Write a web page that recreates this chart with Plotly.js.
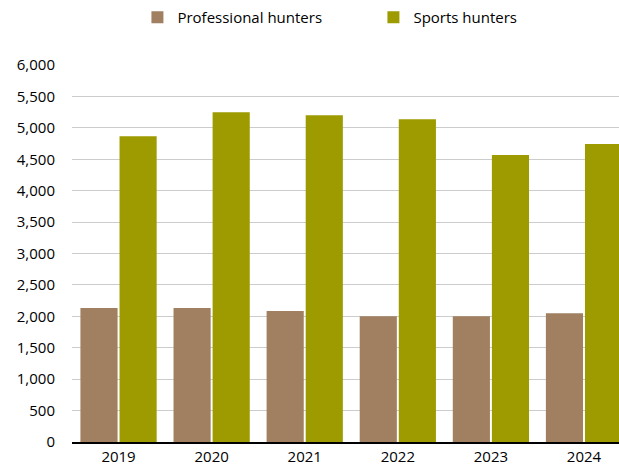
<!DOCTYPE html>
<html>
<head>
<meta charset="utf-8">
<script src="https://cdn.plot.ly/plotly-3.0.1.min.js"></script>
<style>html,body{margin:0;padding:0;background:#fff;}#chart{width:619px;height:465px;}</style>
</head>
<body>
<div id="chart"></div>
<script>
const years = ["2019", "2020", "2021", "2022", "2023", "2024"];
const professionalHunters = [2132, 2132, 2084, 2003, 2003, 2051];
const sportsHunters = [4868, 5250, 5202, 5138, 4567, 4742];
const yTickVals = [0, 500, 1000, 1500, 2000, 2500, 3000, 3500, 4000, 4500, 5000, 5500, 6000];
const yTickText = ["0", "500", "1,000", "1,500", "2,000", "2,500", "3,000", "3,500", "4,000", "4,500", "5,000", "5,500", "6,000"];

const font = {family: "Open Sans, Noto Sans, sans-serif", size: 15, color: "#000"};

const data = [
  {type: "bar", name: "Professional hunters", x: years, y: professionalHunters,
   marker: {color: "#A08060"}, hoverinfo: "none"},
  {type: "bar", name: "Sports hunters", x: years, y: sportsHunters,
   marker: {color: "#9D9B00"}, hoverinfo: "none"}
];

const layout = {
  width: 619, height: 465,
  margin: {l: 72, r: 0, t: 65, b: 23},
  paper_bgcolor: "#fff", plot_bgcolor: "#fff",
  font: font,
  barmode: "group",
  bargap: 0.16,
  bargroupgap: 0.05,
  showlegend: true,
  legend: {orientation: "h", xref: "container", yref: "container", x: 0.222, xanchor: "left",
           y: 0.998, yanchor: "top", font: font, entrywidth: 191, entrywidthmode: "pixels",
           traceorder: "normal", bgcolor: "rgba(0,0,0,0)"},
  xaxis: {type: "category", range: [-0.5, 5.376], showgrid: false, zeroline: false,
          showline: true, linecolor: "#000", linewidth: 1.5, ticks: "", tickfont: font,
          ticklabelstandoff: 0, fixedrange: true},
  yaxis: {range: [0, 6000], tickvals: yTickVals, ticktext: yTickText, showgrid: true,
          gridcolor: "#cccccc", gridwidth: 1, zeroline: false, showline: false, ticks: "",
          ticklabelstandoff: 16, tickfont: font, fixedrange: true}
};

Plotly.newPlot("chart", data, layout, {displayModeBar: false, staticPlot: true});
</script>
</body>
</html>
